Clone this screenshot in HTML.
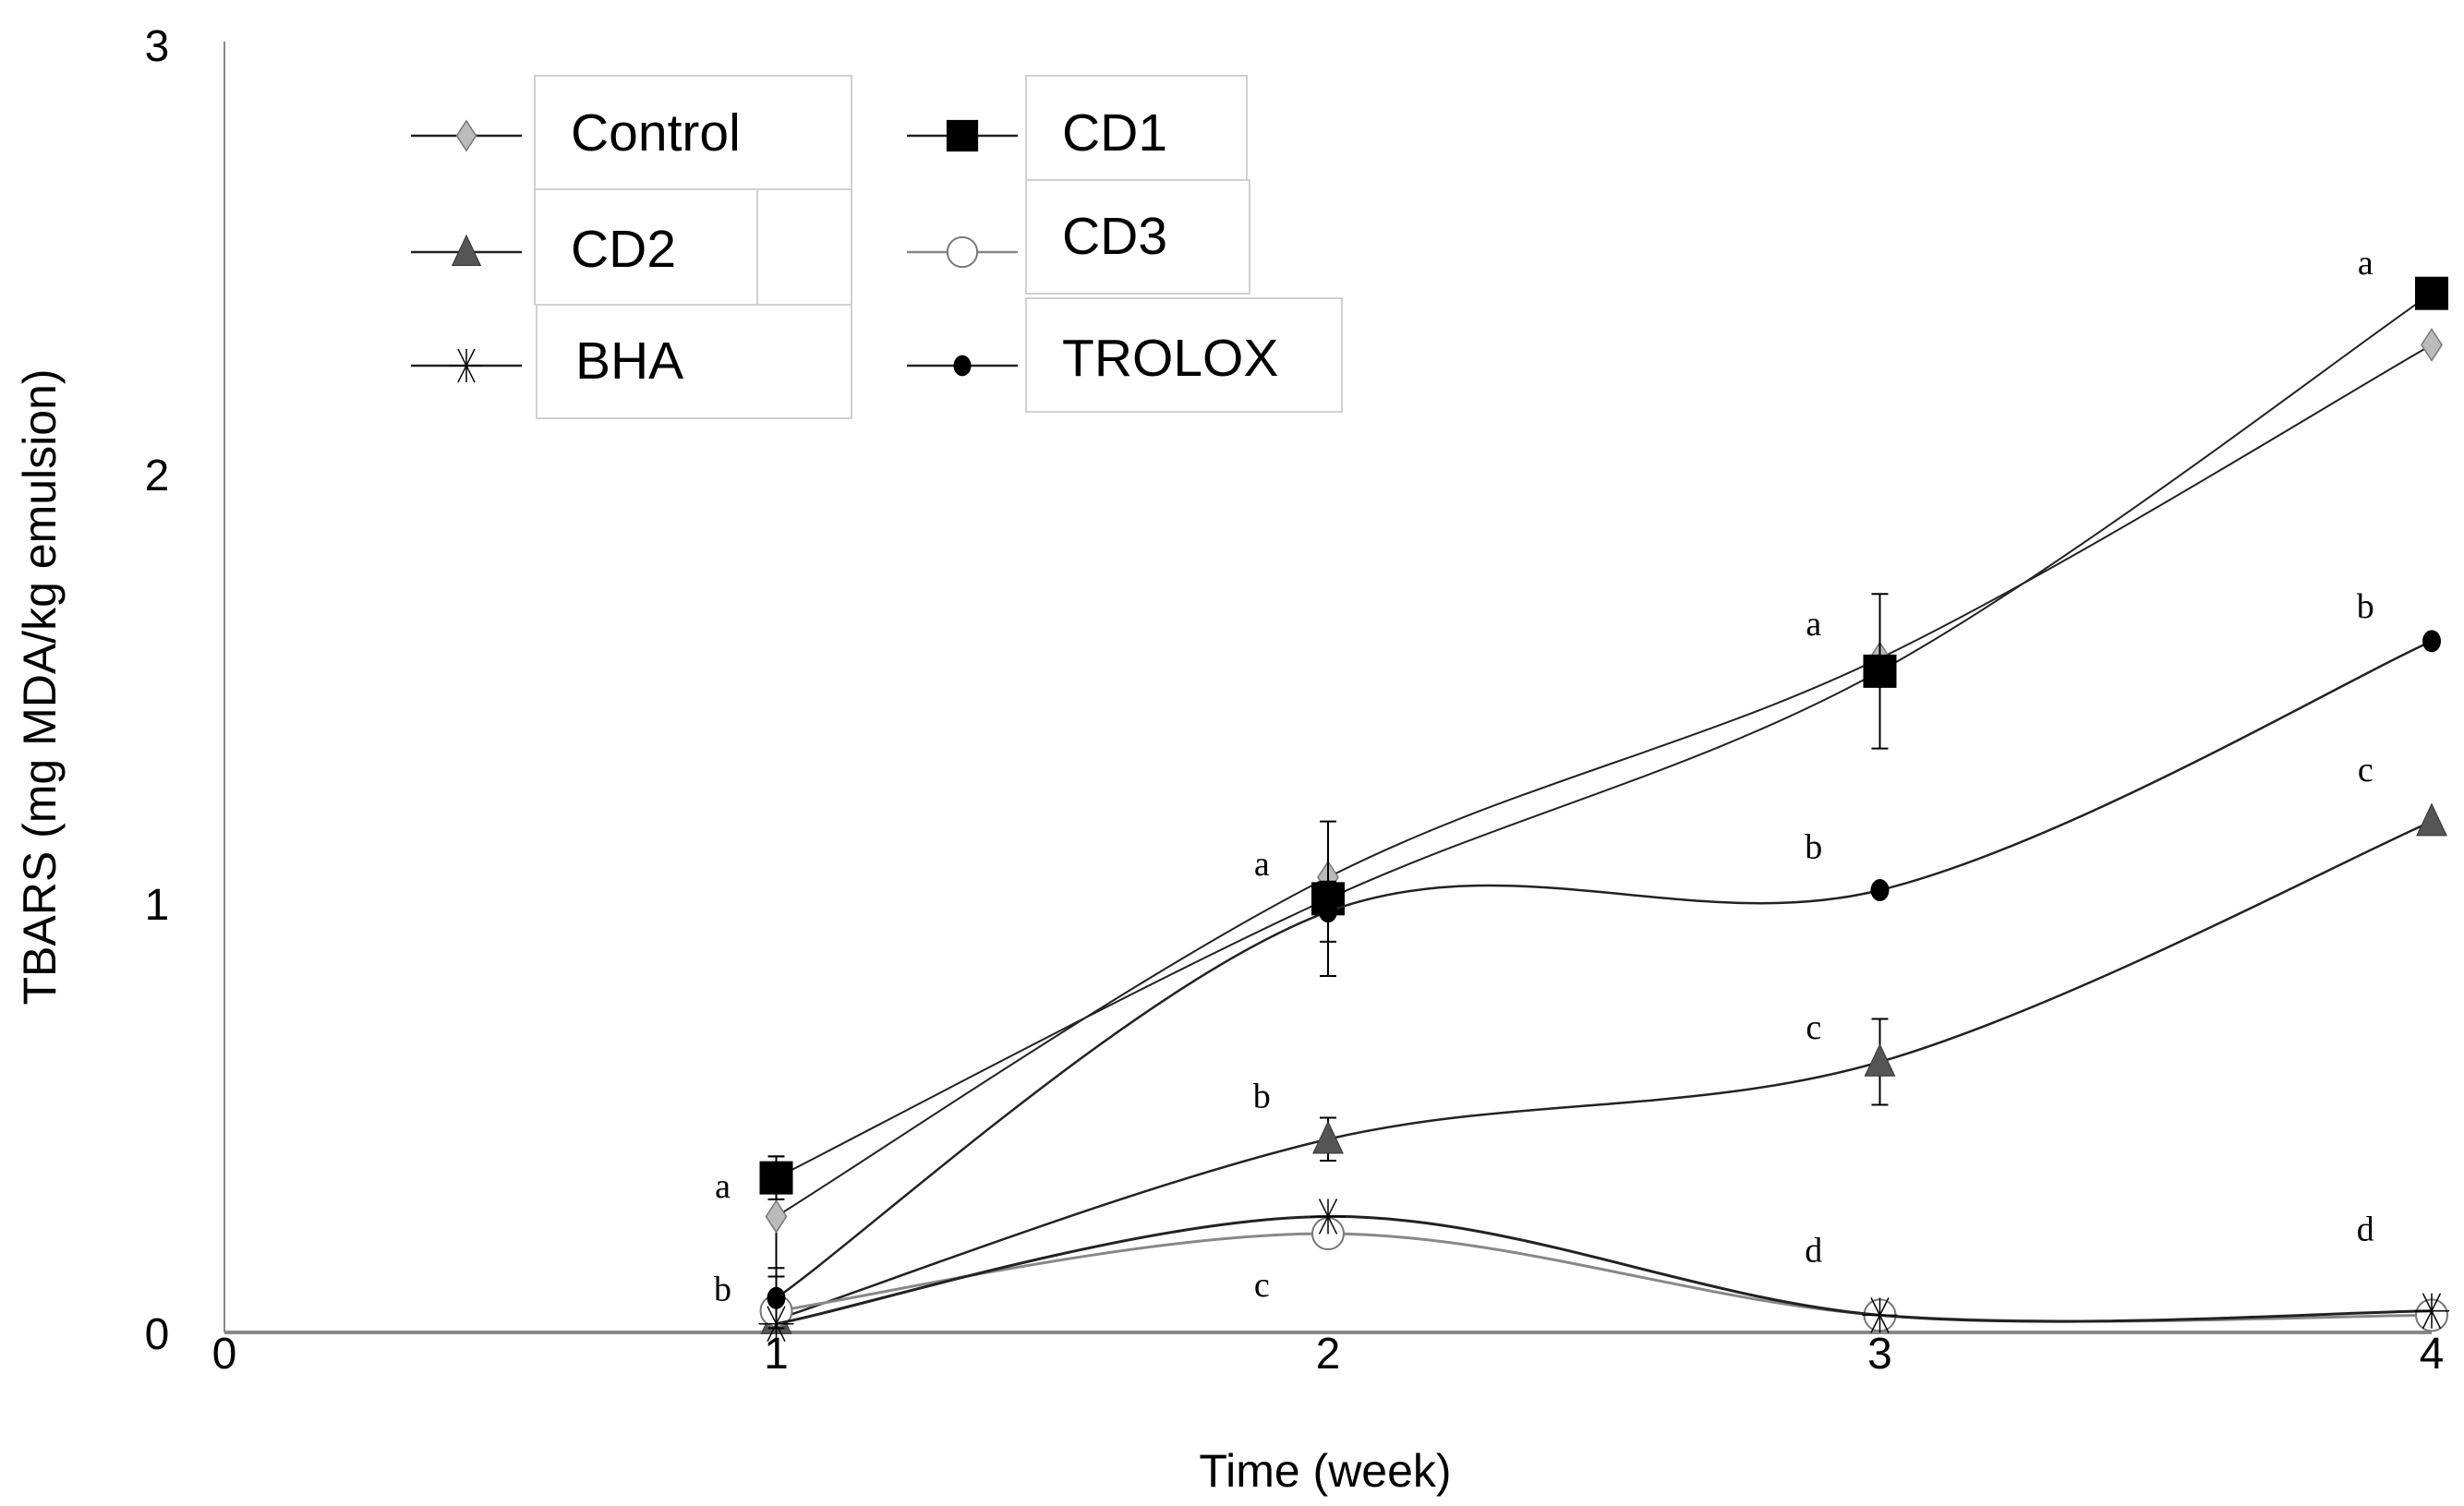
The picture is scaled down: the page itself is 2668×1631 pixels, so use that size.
<!DOCTYPE html>
<html><head><meta charset="utf-8"><style>
html,body{margin:0;padding:0;background:#fff;overflow:hidden;}
svg{display:block;}
</style></head><body>
<svg id="chart" width="2668" height="1631" viewBox="0 0 2668 1631" xmlns="http://www.w3.org/2000/svg" font-family="Liberation Sans, sans-serif">
<g id="axes"></g>
<g id="series"></g>
<g id="letters" font-family="Liberation Serif, serif" font-size="38" fill="#000"></g>
<g id="legend"></g>
</svg>
<script>
const weeks = [1, 2, 3, 4];
const xTicks = [0, 1, 2, 3, 4];
const yTicks = [0, 1, 2, 3];
const control = [0.27, 1.06, 1.57, 2.30];
const cd1 = [0.36, 1.01, 1.54, 2.42];
const cd2 = [0.03, 0.45, 0.63, 1.19];
const cd3 = [0.05, 0.23, 0.04, 0.04];
const bha = [0.02, 0.27, 0.04, 0.05];
const trolox = [0.08, 0.98, 1.03, 1.61];
const cd1Err = [0.05, 0.18, 0.18, 0];
const controlErr = [0.14, 0, 0, 0];
const cd2Err = [0, 0.05, 0.10, 0];
const troloxErr = [0.07, 0.07, 0, 0];
const letterWeek = [1, 1, 2, 2, 2, 3, 3, 3, 3, 4, 4, 4, 4];
const letterY = [0.34, 0.10, 1.09, 0.55, 0.11, 1.65, 1.13, 0.71, 0.19, 2.49, 1.69, 1.31, 0.24];
const letterTxt = ['a','b','a','b','c','a','b','c','d','a','b','c','d'];

const NS = 'http://www.w3.org/2000/svg';
const X0 = 243, XU = 597.5, Y0 = 1443, YU = 465;
function xs(v){ return X0 + v * XU; }
function ys(v){ return Y0 - v * YU; }
function mk(tag, attrs, parent){ const e = document.createElementNS(NS, tag); for (const k in attrs) e.setAttribute(k, attrs[k]); parent.appendChild(e); return e; }

const axes = document.getElementById('axes');
let yAxis = mk('line', {x1: X0, y1: 45, x2: X0, y2: Y0, stroke: '#888', 'stroke-width': 2}, axes);


let xAxis = mk('line', {x1: X0, y1: Y0, x2: xs(4), y2: Y0, stroke: '#888', 'stroke-width': 4}, axes);


yTicks.forEach(t => {
  const e = mk('text', {x: 170, y: ys(t) + 18, 'text-anchor': 'middle', 'font-size': 48, fill: '#000'}, axes);
  e.textContent = t;
  
  
});
xTicks.forEach(t => {
  const e = mk('text', {x: xs(t), y: 1482, 'text-anchor': 'middle', 'font-size': 48, fill: '#000'}, axes);
  e.textContent = t;
  
  
});
let xt = mk('text', {x: 1435, y: 1610, 'text-anchor': 'middle', 'font-size': 50, fill: '#000'}, axes);
xt.textContent = 'Time (week)';


let yt = mk('text', {x: 0, y: 0, 'text-anchor': 'middle', 'font-size': 50, fill: '#000', transform: 'translate(60,744) rotate(-90)'}, axes);
yt.textContent = 'TBARS (mg MDA/kg emulsion)';



function smoothPath(vals){
  const p = weeks.map((w, i) => [xs(w), ys(vals[i])]);
  let d = 'M' + p[0][0] + ',' + p[0][1];
  for (let i = 0; i < p.length - 1; i++) {
    const p0 = p[i - 1] || p[i], p1 = p[i], p2 = p[i + 1], p3 = p[i + 2] || p2;
    const t = 1 / 6;
    d += ' C' + (p1[0] + (p2[0] - p0[0]) * t) + ',' + (p1[1] + (p2[1] - p0[1]) * t) + ' ' + (p2[0] - (p3[0] - p1[0]) * t) + ',' + (p2[1] - (p3[1] - p1[1]) * t) + ' ' + p2[0] + ',' + p2[1];
  }
  return d;
}
function marker(type, cx, cy, g, legendSize){
  const s = legendSize || 1;
  if (type === 'diamond') { const r = 17 * s; return mk('polygon', {points: `${cx},${cy - r} ${cx + r * 0.65},${cy} ${cx},${cy + r} ${cx - r * 0.65},${cy}`, fill: '#bbb', stroke: '#777', 'stroke-width': 1.5}, g); }
  if (type === 'square') { const r = 18 * s; return mk('rect', {x: cx - r, y: cy - r, width: 2 * r, height: 2 * r, fill: '#000'}, g); }
  if (type === 'triangle') { const r = 19 * s; return mk('polygon', {points: `${cx},${cy - r} ${cx + r * 0.85},${cy + r * 0.8} ${cx - r * 0.85},${cy + r * 0.8}`, fill: '#555', stroke: '#333', 'stroke-width': 1}, g); }
  if (type === 'circle') { return mk('circle', {cx: cx, cy: cy, r: 17 * s, fill: '#fff', stroke: '#777', 'stroke-width': 2}, g); }
  if (type === 'star') { const r = 19 * s; const gg = mk('g', {stroke: '#000', 'stroke-width': 1.5}, g); [[0, -r, 0, r], [-r, 0, r, 0], [-r * 0.5, -r, r * 0.5, r], [r * 0.5, -r, -r * 0.5, r]].forEach(l => mk('line', {x1: cx + l[0], y1: cy + l[1], x2: cx + l[2], y2: cy + l[3]}, gg)); return gg; }
  if (type === 'dot') { return mk('ellipse', {cx: cx, cy: cy, rx: 10 * s, ry: 12 * s, fill: '#000'}, g); }
}
const seriesList = [
  {name: 'control', vals: control, err: controlErr, m: 'diamond', color: '#222', w: 2},
  {name: 'cd1', vals: cd1, err: cd1Err, m: 'square', color: '#222', w: 2},
  {name: 'cd2', vals: cd2, err: cd2Err, m: 'triangle', color: '#222', w: 2.5},
  {name: 'cd3', vals: cd3, err: null, m: 'circle', color: '#888', w: 3},
  {name: 'bha', vals: bha, err: null, m: 'star', color: '#222', w: 3},
  {name: 'trolox', vals: trolox, err: troloxErr, m: 'dot', color: '#222', w: 2.5}
];
const sg = document.getElementById('series');
seriesList.forEach(s => {
  const g = mk('g', {}, sg);
  
  
  const path = mk('path', {d: smoothPath(s.vals), fill: 'none', stroke: s.color, 'stroke-width': s.w}, g);
  
  
  weeks.forEach((w, i) => {
    if (s.err && s.err[i] > 0) {
      const eg = mk('g', {stroke: '#000', 'stroke-width': 2}, g);
      
      
      const cx = xs(w), top = ys(s.vals[i] + s.err[i]), bot = ys(s.vals[i] - s.err[i]);
      mk('line', {x1: cx, y1: top, x2: cx, y2: bot}, eg);
      mk('line', {x1: cx - 9, y1: top, x2: cx + 9, y2: top}, eg);
      mk('line', {x1: cx - 9, y1: bot, x2: cx + 9, y2: bot}, eg);
    }
    const m = marker(s.m, xs(w), ys(s.vals[i]), g);
    
    
  });
});
const lg = document.getElementById('letters');
letterTxt.forEach((t, i) => {
  const w = letterWeek[i];
  const e = mk('text', {x: xs(w - (w === 1 ? 0.097 : 0.12)), y: ys(letterY[i]) + 12, 'text-anchor': 'middle'}, lg);
  e.textContent = t;
  
  
});

const leg = document.getElementById('legend');
[[579, 82, 343, 123], [579, 205, 241, 125], [820, 205, 102, 125], [581, 330, 341, 123], [1111, 82, 239, 113], [1111, 195, 242, 123], [1111, 323, 342, 123]].forEach(b => {
  const r = mk('rect', {x: b[0], y: b[1], width: b[2], height: b[3], fill: '#fff', stroke: '#d0d0d0', 'stroke-width': 2}, leg);
  
  
});
const legItems = [
  {l: 'Control', m: 'diamond', x: 445, tx: 618, y: 147, ty: 163, c: '#222'},
  {l: 'CD2', m: 'triangle', x: 445, tx: 618, y: 273, ty: 289, c: '#222'},
  {l: 'BHA', m: 'star', x: 445, tx: 623, y: 396, ty: 410, c: '#222'},
  {l: 'CD1', m: 'square', x: 982, tx: 1150, y: 147, ty: 163, c: '#222'},
  {l: 'CD3', m: 'circle', x: 982, tx: 1150, y: 273, ty: 275, c: '#888'},
  {l: 'TROLOX', m: 'dot', x: 982, tx: 1150, y: 396, ty: 407, c: '#222'}
];
legItems.forEach(it => {
  const g = mk('g', {}, leg);
  
  
  mk('line', {x1: it.x, y1: it.y, x2: it.x + 120, y2: it.y, stroke: it.c, 'stroke-width': 2.5}, g);
  marker(it.m, it.x + 60, it.y, g, 0.95);
  const t = mk('text', {x: it.tx, y: it.ty, 'font-size': 57, fill: '#000'}, g);
  t.textContent = it.l;
});
</script>
</body></html>
